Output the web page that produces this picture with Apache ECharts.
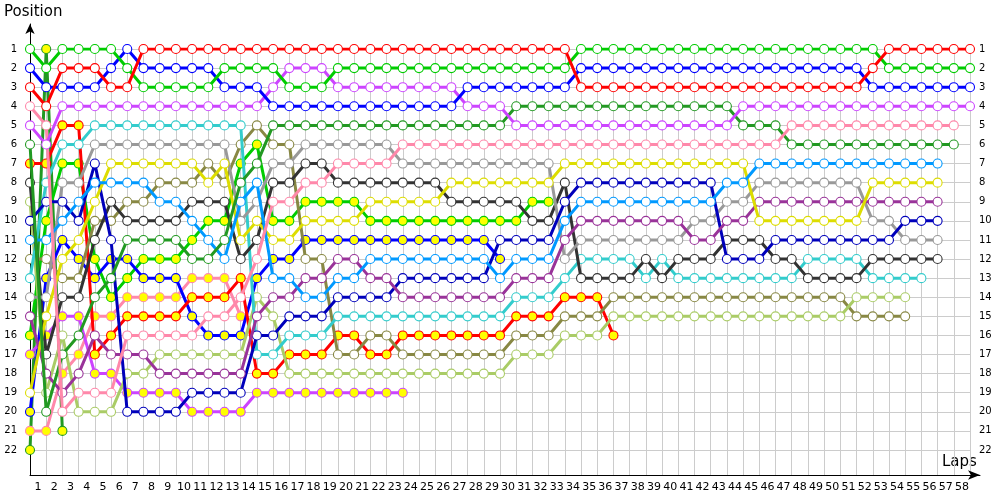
<!DOCTYPE html>
<html><head><meta charset="utf-8">
<script src="https://cdn.jsdelivr.net/npm/echarts@6/dist/echarts.min.js"></script>
<style>html,body{margin:0;padding:0;background:#fff}#c{width:1000px;height:500px}</style>
</head><body><div id="c"></div><script>
// lap tick labels (bottom axis)
const lapLabels = ['1','2','3','4','5','6','7','8','9','10','11','12','13','14','15','16','17','18','19','20','21','22','23','24','25','26','27','28','29','30','31','32','33','34','35','36','37','38','39','40','41','42','43','44','45','46','47','48','49','50','51','52','53','54','55','56','57','58'];
// position tick labels
const positionLabels = [1,2,3,4,5,6,7,8,9,10,11,12,13,14,15,16,17,18,19,20,21,22];

// positions per lap, starting at lap 0 (grid)
const redA = [3,4,2,2,2,3,3,1,1,1,1,1,1,1,1,1,1,1,1,1,1,1,1,1,1,1,1,1,1,1,1,1,1,1,3,3,3,3,3,3,3,3,3,3,3,3,3,3,3,3,3,3,2,1,1,1,1,1,1];
const greenB = [1,2,1,1,1,1,2,3,3,3,3,3,2,2,2,2,3,3,3,2,2,2,2,2,2,2,2,2,2,2,2,2,2,2,1,1,1,1,1,1,1,1,1,1,1,1,1,1,1,1,1,1,1,2,2,2,2,2,2];
const blueC = [2,3,3,3,3,2,1,2,2,2,2,2,3,3,3,4,4,4,4,4,4,4,4,4,4,4,4,3,3,3,3,3,3,3,2,2,2,2,2,2,2,2,2,2,2,2,2,2,2,2,2,2,3,3,3,3,3,3,3];
const violetD = [5,6,4,4,4,4,4,4,4,4,4,4,4,4,4,3,2,2,2,3,3,3,3,3,3,3,3,4,4,4,5,5,5,5,5,5,5,5,5,5,5,5,5,5,4,4,4,4,4,4,4,4,4,4,4,4,4,4,4];
const pinkE = [4,5,20,19,19,19,16,16,16,16,16,15,15,14,12,9,9,8,8,7,7,7,7,6,6,6,6,6,6,6,6,6,6,6,6,6,6,6,6,6,6,6,6,6,6,6,6,5,5,5,5,5,5,5,5,5,5,5];
const dkgreenF = [6,20,17,16,14,13,11,11,11,11,12,12,11,8,7,5,5,5,5,5,5,5,5,5,5,5,5,5,5,5,4,4,4,4,4,4,4,4,4,4,4,4,4,4,5,5,5,6,6,6,6,6,6,6,6,6,6,6];
const ltblueG = [11,11,10,9,8,8,8,8,9,9,10,11,12,9,8,13,13,14,14,13,13,12,12,12,12,12,12,12,12,13,12,12,12,10,9,9,9,9,9,9,9,9,9,8,8,7,7,7,7,7,7,7,7,7,7,7,7];
const yellowH = [19,15,12,11,9,7,7,7,7,7,7,8,7,11,10,11,11,10,10,10,10,9,9,9,9,9,8,8,8,8,8,8,8,7,7,7,7,7,7,7,7,7,7,7,7,10,10,10,10,10,10,10,8,8,8,8,8];
const purpleI = [15,18,19,18,16,17,17,17,18,18,18,18,18,18,15,14,14,13,13,12,12,13,13,14,14,14,14,14,14,14,13,13,13,11,10,10,10,10,10,10,10,11,11,10,10,9,9,9,9,9,9,9,9,9,9,9,9];
const navyJ = [10,9,9,10,7,11,20,20,20,20,19,19,19,19,16,16,15,15,15,14,14,14,14,13,13,13,13,13,13,11,11,11,11,9,8,8,8,8,8,8,8,8,8,12,12,12,11,11,11,11,11,11,11,11,10,10,10];
const grayK = [14,14,8,8,6,6,6,6,6,6,6,6,6,10,9,7,7,6,6,6,6,6,6,7,7,7,7,7,7,7,7,7,7,12,11,11,11,11,11,11,11,10,10,9,9,8,8,8,8,8,8,8,10,10,11,11,11];
const blackL = [8,17,14,14,11,9,10,10,10,10,9,9,9,12,11,8,8,7,7,8,8,8,8,8,8,8,9,9,9,9,9,10,10,8,13,13,13,13,12,13,12,12,12,11,11,11,12,12,13,13,13,13,12,12,12,12,12];
const tealM = [13,8,6,6,5,5,5,5,5,5,5,5,5,5,17,17,16,16,16,15,15,15,15,15,15,15,15,15,15,15,14,14,14,13,12,12,12,12,13,12,13,13,13,13,13,13,13,13,12,12,12,12,13,13,13,13];
const ltgreenN = [9,19,16,20,20,20,18,18,17,17,17,17,17,17,14,15,18,18,18,18,18,18,18,18,18,18,18,18,18,18,17,17,17,16,16,16,15,15,15,15,15,15,15,15,15,15,15,15,15,15,15,14,14,14,14];
const oliveO = [12,12,13,13,10,10,9,9,8,8,8,7,8,6,5,6,6,12,12,17,17,16,16,17,17,17,17,17,17,17,16,16,16,15,15,15,14,14,14,14,14,14,14,14,14,14,14,14,14,14,14,15,15,15,15];
const redP = [7,7,5,5,17,16,15,15,15,15,14,14,14,13,18,18,17,17,17,16,16,17,17,16,16,16,16,16,16,16,15,15,15,14,14,14,16];
const violetQ = [17,16,15,15,18,18,19,19,19,19,20,20,20,20,19,19,19,19,19,19,19,19,19,19];
const blueJ2 = [20,13,11,12,13,12,12,13,13,13,15,16,16,16,13,12,12,11,11,11,11,11,11,11,11,11,11,11,11,12];
const greenB2 = [16,10,7,7,12,14,13,12,12,12,11,10,10,7,6,10,10,9,9,9,9,10,10,10,10,10,10,10,10,10,10,9,9];
const pinkE2 = [21,21,18,17,15,15,14,14,14,14,13,13,13,15];
const dkgreenF2 = [22,1,21];

// styles (kept apart from data)
const styleTable = [
  [redA,'#ff0000',false],[greenB,'#00cc00',false],[blueC,'#0000ff',false],[violetD,'#cc44ff',false],
  [pinkE,'#ff88aa',false],[dkgreenF,'#229922',false],[ltblueG,'#0099ff',false],[yellowH,'#dddd00',false],
  [purpleI,'#993399',false],[navyJ,'#0000bb',false],[grayK,'#999999',false],[blackL,'#333333',false],
  [tealM,'#33cccc',false],[ltgreenN,'#aacc66',false],[oliveO,'#888844',false],
  [redP,'#ff0000',true],[violetQ,'#cc44ff',true],[blueJ2,'#0000ff',true],[greenB2,'#00cc00',true],
  [pinkE2,'#ff88aa',true],[dkgreenF2,'#229922',true]
];

const series = styleTable.map(([arr,color,filled],i)=>({
  type:'line', xAxisIndex:0, yAxisIndex:0, z:10+(styleTable.length-i),
  data: arr.map((p,lap)=>[lap,p]),
  symbol:'circle', symbolSize:9, showAllSymbol:true,
  lineStyle:{color:color,width:3},
  itemStyle:{color: filled?'#ffff00':'#ffffff', borderColor:color, borderWidth:1.1},
  emphasis:{disabled:true}, silent:true
}));

const fontFam = 'Verdana, "DejaVu Sans", sans-serif';
const chart = echarts.init(document.getElementById('c'), null, {renderer:'canvas'});
chart.setOption({
  animation:false,
  backgroundColor:'#ffffff',
  grid:[
    {left:30,right:30,top:49,bottom:50},
    {left:30,right:30,top:44,bottom:25},
    {left:30,right:20,top:24,bottom:25}
  ],
  xAxis:[
    {gridIndex:0,type:'value',min:0,max:58,interval:1,show:false},
    {gridIndex:1,type:'category',data:lapLabels,boundaryGap:true,
      axisLine:{show:false},axisTick:{show:false},
      axisLabel:{interval:0,margin:7,fontSize:11,color:'#000',fontFamily:fontFam},
      splitLine:{show:true,interval:0,lineStyle:{color:'#cccccc',width:1}}},
    {gridIndex:2,type:'value',min:0,max:1,
      axisLine:{show:true,symbol:['none','arrow'],symbolSize:[7,12],lineStyle:{color:'#000',width:1}},
      axisTick:{show:false},axisLabel:{show:false},splitLine:{show:false}}
  ],
  yAxis:[
    {gridIndex:0,type:'value',inverse:true,min:1,max:22,interval:1,
      axisLine:{show:false},axisTick:{show:false},
      axisLabel:{margin:13,fontSize:10,color:'#000',fontFamily:fontFam},
      splitLine:{show:true,lineStyle:{color:'#cccccc',width:1}}},
    {gridIndex:0,type:'value',inverse:true,min:1,max:22,interval:1,position:'right',
      axisLine:{show:false},axisTick:{show:false},
      axisLabel:{margin:9,fontSize:10,color:'#000',fontFamily:fontFam,align:'left'},
      splitLine:{show:false}},
    {gridIndex:1,type:'value',show:false,min:0,max:1},
    {gridIndex:2,type:'value',min:0,max:1,
      axisLine:{show:true,symbol:['none','arrow'],symbolSize:[7,10],lineStyle:{color:'#000',width:1}},
      axisTick:{show:false},axisLabel:{show:false},splitLine:{show:false}}
  ],
  graphic:[
    {type:'text',left:4,top:5,style:{text:'Position',fontSize:15,fill:'#000',fontFamily:fontFam}},
    {type:'text',left:942,top:455,style:{text:'Laps',fontSize:15,fill:'#000',fontFamily:fontFam}}
  ],
  series: series
});
</script></body></html>
